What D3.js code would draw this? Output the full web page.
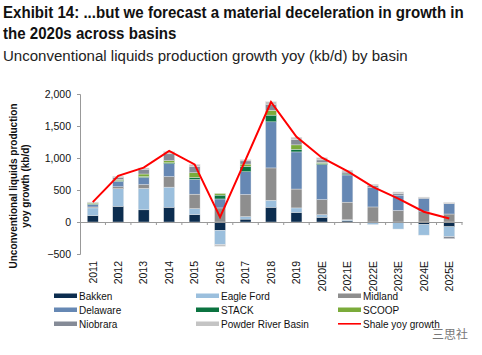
<!DOCTYPE html>
<html><head><meta charset="utf-8">
<script src="https://cdn.jsdelivr.net/npm/d3@7/dist/d3.min.js"></script>
<style>
body{margin:0;background:#fff;}
svg{display:block;font-family:Arial,"Liberation Sans",sans-serif;}
</style></head>
<body><svg id="c" width="482" height="355"></svg>
<script>
const categories = ["2011","2012","2013","2014","2015","2016","2017","2018","2019","2020E","2021E","2022E","2023E","2024E","2025E"];
const seriesNames = ["Bakken","Eagle Ford","Midland","Delaware","STACK","SCOOP","Niobrara","Powder River Basin"];
const bakken    = [100, 245, 190, 230, 115, -130,  45, 230, 150,  75,  20,   0,    0,  -40,  -75];
const eagleFord = [120, 275, 335, 315,  95, -225,  40, 110,  70,  40,  15, -40, -110, -165, -155];
const midland   = [ 15,  30,  60, 165, 225,  220, 345, 505, 295, 235, 275, 235,  180,  160,  125];
const delaware  = [ 40,  85, 110, 200, 230,  140, 355, 720, 580, 545, 425, 305,  240,  210,  160];
const stack     = [ 12,  15,  15,  15,  30,   60,  85, 105,  40,  20,  15,   0,    0,    0,    0];
const scoop     = [ 10,  15,  40,  35,  75,   25,  35,  75,  70,  15, -10,   0,    0,    0,    0];
const niobrara  = [ 10,  35,  75, 105,  95,    0,  50,  95,  80,  40,  30,  25,   25,   10,  -30];
const prb       = [  5,  15,  20,  35,  35,  -25,  20,  40,  40,  35,  30,  25,   25,   10,   20];
const shaleGrowth = [310, 720, 850, 1110, 900, 75, 970, 1875, 1330, 1005, 795, 550, 365, 160, 55];
const yTicks = [-500, 0, 500, 1000, 1500, 2000];

const colors = ["#0c2d4f","#9bbfdd","#8e8e8e","#6688b4","#0b7340","#7bab3a","#858b97","#c4c4c4"];
const seriesData = [bakken, eagleFord, midland, delaware, stack, scoop, niobrara, prb];

const rows = categories.map((c,i)=>{ const o={cat:c}; seriesNames.forEach((s,j)=>o[s]=seriesData[j][i]); return o; });

const svg = d3.select("#c");

const condensed = "'Liberation Sans Narrow',Arial,'Liberation Sans',sans-serif";
function condText(x0, y0, txt, size, weight, target, color, sxFixed){
  const g = svg.append("g");
  const t = g.append("text").attr("x",0).attr("y",0)
    .style("font-family",condensed).style("font-weight",weight).style("font-size",size+"px")
    .attr("fill",color).text(txt);
  const n = t.node().getComputedTextLength();
  const sx = sxFixed || target/n;
  g.attr("transform",`translate(${x0},${y0}) scale(${sx},1)`);
  return sx;
}
const sx1 = condText(3, 18, "Exhibit 14: ...but we forecast a material deceleration in growth in", 16.5, "bold", 461, "#111");
condText(3, 39, "the 2020s across basins", 16.5, "bold", 0, "#111", sx1);
condText(3, 61, "Unconventional liquids production growth yoy (kb/d) by basin", 15.5, "normal", 405, "#222");

const x = d3.scaleBand().domain(categories).range([80,462]).paddingInner(0.57).paddingOuter(0.285);
const y = d3.scaleLinear().domain([-500,2000]).range([254,94]);

const stackGen = d3.stack().keys(seriesNames).offset(d3.stackOffsetDiverging);
const stacked = stackGen(rows);

svg.append("g").selectAll("g").data(stacked).join("g")
  .attr("fill",(d,i)=>colors[i])
  .selectAll("rect").data(d=>d).join("rect")
  .attr("x",d=>x(d.data.cat))
  .attr("width",x.bandwidth())
  .attr("y",d=>y(Math.max(d[0],d[1])))
  .attr("height",d=>Math.abs(y(d[0])-y(d[1])))
  .attr("stroke","#e8e8e8").attr("stroke-width",0.4);

// Y axis
const yAxis = svg.append("g").attr("transform","translate(80,0)")
  .call(d3.axisLeft(y).tickValues(yTicks).tickSize(3).tickPadding(6).tickFormat(d3.format(",")));
yAxis.select(".domain").attr("stroke","#999");
yAxis.selectAll(".tick line").attr("stroke","#999");
yAxis.selectAll("text").style("font-size","10.5px").attr("fill","#111");

// X axis at zero
const xAxis = svg.append("g").attr("transform",`translate(0,${y(0)})`)
  .call(d3.axisBottom(x).tickSize(0).tickFormat(""));
xAxis.select(".domain").attr("stroke","#999");
const bounds = categories.map(c=>x(c)-x.step()*x.paddingInner()/2).concat([462]).slice(1);
svg.append("g").selectAll("line").data(bounds).join("line")
  .attr("x1",d=>d).attr("x2",d=>d).attr("y1",y(0)).attr("y2",y(0)+3).attr("stroke","#999");

// X labels rotated
svg.append("g").selectAll("text").data(categories).join("text")
  .attr("transform",d=>`translate(${x(d)+x.bandwidth()/2+3.8},261) rotate(-90)`)
  .attr("text-anchor","end").style("font-size","10.5px").attr("fill","#111").text(d=>d);

// Line
const line = d3.line().x((d,i)=>x(categories[i])+x.bandwidth()/2).y(d=>y(d));
svg.append("path").datum(shaleGrowth).attr("d",line).attr("fill","none").attr("stroke","#ff0000").attr("stroke-width",2);

// Y axis title
const yt = svg.append("text").attr("transform","translate(17,186) rotate(-90)").attr("text-anchor","middle")
  .style("font-size","10px").style("font-weight","bold").attr("fill","#111");
yt.append("tspan").attr("x",0).attr("dy",0).text("Unconventional liquids production");
yt.append("tspan").attr("x",0).attr("dy",12).text("yoy growth (kb/d)");

// Legend
const legendItems = seriesNames.map((s,i)=>({name:s,color:colors[i],type:"bar"})).concat([{name:"Shale yoy growth",color:"#ff0000",type:"line"}]);
const colX = [54,196,338];
const rowY = [296,310,324];
const lg = svg.append("g").selectAll("g").data(legendItems).join("g")
  .attr("transform",(d,i)=>`translate(${colX[i%3]},${rowY[Math.floor(i/3)]})`);
lg.append("rect").attr("x",0).attr("width",23)
  .attr("y",d=>d.type==="line"?-1:-2.5).attr("height",d=>d.type==="line"?1.6:4.5).attr("fill",d=>d.color);
lg.append("text").attr("x",25).attr("y",3.8).style("font-size","10px").attr("fill","#111").text(d=>d.name);

// watermark
svg.append("text").attr("x",432).attr("y",339).style("font-family","'Noto Sans CJK SC',sans-serif")
  .style("font-size","12px").attr("fill","#777").text("三思社");
</script></body></html>
